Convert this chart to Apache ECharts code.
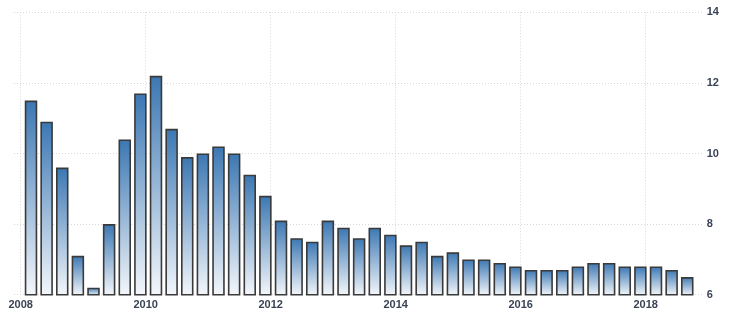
<!DOCTYPE html>
<html><head><meta charset="utf-8">
<script src="https://cdn.jsdelivr.net/npm/echarts@6/dist/echarts.min.js"></script>
<style>html,body{margin:0;padding:0;background:#fff}#c{width:730px;height:315px}</style>
</head><body><div id="c"></div>
<script>
const quarters = [
  '2008Q1','2008Q2','2008Q3','2008Q4',
  '2009Q1','2009Q2','2009Q3','2009Q4',
  '2010Q1','2010Q2','2010Q3','2010Q4',
  '2011Q1','2011Q2','2011Q3','2011Q4',
  '2012Q1','2012Q2','2012Q3','2012Q4',
  '2013Q1','2013Q2','2013Q3','2013Q4',
  '2014Q1','2014Q2','2014Q3','2014Q4',
  '2015Q1','2015Q2','2015Q3','2015Q4',
  '2016Q1','2016Q2','2016Q3','2016Q4',
  '2017Q1','2017Q2','2017Q3','2017Q4',
  '2018Q1','2018Q2','2018Q3'
];
const growth = [
  11.5,10.9,9.6,7.1,
  6.2,8.0,10.4,11.7,
  12.2,10.7,9.9,10.0,
  10.2,10.0,9.4,8.8,
  8.1,7.6,7.5,8.1,
  7.9,7.6,7.9,7.7,
  7.4,7.5,7.1,7.2,
  7.0,7.0,6.9,6.8,
  6.7,6.7,6.7,6.8,
  6.9,6.9,6.8,6.8,
  6.8,6.7,6.5
];
const yMin = 6, yMax = 14, yStep = 2;
const xMin = 2007.893, xMax = 2018.912;

function quarterPos(label) {
  const y = parseInt(label.slice(0, 4), 10);
  const q = parseInt(label.slice(5), 10);
  return y + (q - 1) * 0.25 + 0.165;
}
const seriesData = quarters.map((c, i) => [quarterPos(c), growth[i]]);

const labelColor = '#3a4356';
const chart = echarts.init(document.getElementById('c'), null, {renderer: 'canvas'});
chart.setOption({
  animation: false,
  backgroundColor: '#ffffff',
  grid: {left: 14, right: 27.3, top: 12.3, bottom: 20.3, containLabel: false},
  xAxis: {
    type: 'value', min: xMin, max: xMax, minInterval: 2, maxInterval: 2,
    axisLine: {show: false}, axisTick: {show: false},
    axisLabel: {
      showMinLabel: false, showMaxLabel: false, margin: 5,
      color: labelColor, fontSize: 11, fontWeight: 'bold', fontFamily: 'Arial, Liberation Sans, sans-serif',
      formatter: v => (Math.abs(v - Math.round(v)) < 1e-6 ? String(Math.round(v)) : '')
    },
    splitLine: {show: true, showMinLine: false, showMaxLine: false,
      lineStyle: {color: '#d8d8d8', type: [1, 2], width: 1}}
  },
  yAxis: {
    type: 'value', position: 'right', min: yMin, max: yMax, interval: yStep,
    axisLine: {show: false}, axisTick: {show: false},
    axisLabel: {margin: 4, color: labelColor, fontSize: 11, fontWeight: 'bold',
      fontFamily: 'Arial, Liberation Sans, sans-serif', align: 'left'},
    splitLine: {show: true, lineStyle: {color: '#d8d8d8', type: [1, 2], width: 1}}
  },
  series: [{
    type: 'bar',
    data: seriesData,
    barWidth: 12.5,
    barMaxWidth: 20,
    itemStyle: {
      color: new echarts.graphic.LinearGradient(0, 0, 0, 1, [
        {offset: 0, color: '#3b77b3'},
        {offset: 1, color: '#f4f7fb'}
      ]),
      borderColor: '#3a3a3a',
      borderWidth: 1.6
    }
  }]
});
</script>
</body></html>
